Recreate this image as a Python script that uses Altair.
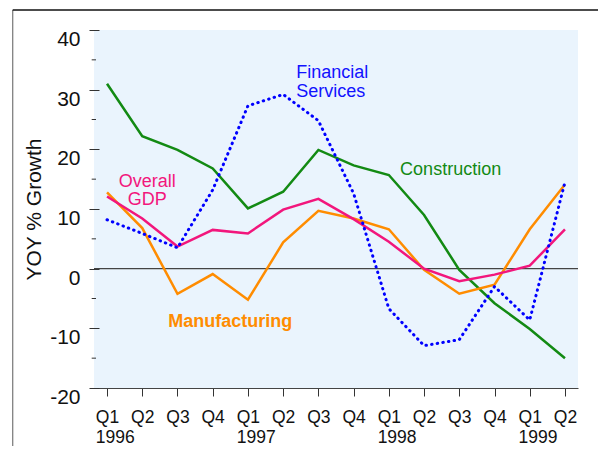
import json
import altair as alt
import pandas as pd

# ---- data ----
quarter_index = list(range(14))
quarter_labels = [["Q1", "1996"], ["Q2", ""], ["Q3", ""], ["Q4", ""],
                  ["Q1", "1997"], ["Q2", ""], ["Q3", ""], ["Q4", ""],
                  ["Q1", "1998"], ["Q2", ""], ["Q3", ""], ["Q4", ""],
                  ["Q1", "1999"], ["Q2", ""]]
construction = [31.0, 22.2, 19.9, 16.8, 10.1, 12.9, 19.9, 17.3, 15.7, 9.0, -0.2, -5.8, -10.1, -15.0]
manufacturing = [12.8, 6.8, -4.2, -0.9, -5.2, 4.4, 9.7, 8.4, 6.6, -0.2, -4.2, -2.7, 6.6, 14.1]
overall_gdp = [12.1, 8.4, 3.7, 6.5, 5.9, 9.9, 11.7, 8.3, 4.5, 0.0, -2.1, -1.0, 0.5, 6.6]
financial = [8.2, 5.9, 3.5, 13.2, 27.3, 29.2, 24.8, 12.6, -6.7, -12.9, -11.9, -3.0, -8.6, 14.5]

series_names = ["Construction", "Manufacturing", "Overall GDP", "Financial Services"]
series_colors = ["#138A13", "#FF8C00", "#F2167C", "#0000FF"]

major_ticks = [-20, -10, 0, 10, 20, 30, 40]
minor_ticks = [-15, -5, 5, 15, 25, 35]

# annotation labels: text, x (quarter index), y (value), align, weight, colour
ann_text = ["Financial\nServices", "Construction", "Overall\nGDP", "Manufacturing"]
ann_x = [5.37, 8.32, 1.14, 1.74]
ann_y = [34.3, 18.0, 16.1, -7.5]
ann_align = ["left", "left", "center", "left"]
ann_weight = ["normal", "normal", "normal", "bold"]
ann_color = ["#1212FF", "#138A13", "#F2167C", "#FF8C00"]

# ---- tables ----
rows = []
for name, vals in zip(series_names, [construction, manufacturing, overall_gdp, financial]):
    for i, v in zip(quarter_index, vals):
        rows.append({"series": name, "q": i, "value": v})
df = pd.DataFrame(rows)
solid = df[df.series != "Financial Services"]
dotted = df[df.series == "Financial Services"]

W, H = 484, 358
FONT = "Liberation Sans"

xscale = alt.Scale(domain=[-0.37, 13.37], nice=False, zero=False)
yscale = alt.Scale(domain=[-20, 40], nice=False, zero=False)
cscale = alt.Scale(domain=series_names, range=series_colors)

label_expr = json.dumps(quarter_labels) + "[datum.value]"

x_axis = alt.Axis(values=quarter_index, labelExpr=label_expr, title=None,
                  domainColor="#444444", domainWidth=1.2, tickColor="#333333",
                  tickSize=8, tickWidth=1, labelFont=FONT, labelFontSize=17.5,
                  labelFontWeight="normal",
                  labelColor="#111111", labelAlign="left", labelOffset=-11.7,
                  labelBaseline="top", labelPadding=12, labelLineHeight=20,
                  labelOverlap=False, labelFlush=False, grid=False)
y_axis = alt.Axis(values=major_ticks, title="YOY % Growth", domain=False,
                  labelExpr="'' + datum.value",
                  tickColor="#333333", tickSize=10, tickWidth=1, offset=-5,
                  labelFont=FONT, labelFontSize=21, labelFontWeight="normal",
                  labelColor="#111111",
                  labelBaseline="top", labelOffset=-1.5, labelPadding=9,
                  labelOverlap=False, labelFlush=False,
                  titleFont=FONT, titleFontSize=21, titleFontWeight="normal",
                  titleColor="#111111", titlePadding=5, grid=False)


def X(field):
    return alt.X(field, type="quantitative", scale=xscale, axis=x_axis)


def Y(field):
    return alt.Y(field, type="quantitative", scale=yscale, axis=y_axis)


frame_left = alt.Chart(pd.DataFrame({"k": [0]})).mark_rule(color="#808080", strokeWidth=1.3).encode(
    x=alt.value(-81.3), y=alt.value(-20), y2=alt.value(H + 120))
frame_top = alt.Chart(pd.DataFrame({"k": [0]})).mark_rule(color="#111111", strokeWidth=1.3).encode(
    x=alt.value(-81.3), x2=alt.value(W + 60), y=alt.value(-20))

zero_line = alt.Chart(pd.DataFrame({"v": [0]})).mark_rule(color="#444444", strokeWidth=1.2).encode(
    y=Y("v"))

minor = alt.Chart(pd.DataFrame({"v": minor_ticks})).mark_rule(color="#333333", strokeWidth=1).encode(
    y=Y("v"), x=alt.value(-2.3), x2=alt.value(2))

lines = alt.Chart(solid).mark_line(strokeWidth=2.5, strokeJoin="miter").encode(
    x=X("q"),
    y=Y("value"),
    color=alt.Color("series:N", scale=cscale, legend=None),
    order=alt.Order("q:Q"))

dots = alt.Chart(dotted).mark_line(strokeWidth=3, strokeDash=[0.5, 5.2], strokeCap="round").encode(
    x=X("q"),
    y=Y("value"),
    color=alt.Color("series:N", scale=cscale, legend=None),
    order=alt.Order("q:Q"))

layers = [frame_left, frame_top, zero_line, minor, lines, dots]
for t, ax, ay, al, wt, col in zip(ann_text, ann_x, ann_y, ann_align, ann_weight, ann_color):
    d = pd.DataFrame({"x": [ax], "y": [ay], "t": [t]})
    layers.append(alt.Chart(d).mark_text(align=al, baseline="top", font=FONT, fontSize=18,
                                         fontWeight=wt, color=col, lineBreak="\n",
                                         lineHeight=18.5).encode(
        x=X("x"), y=Y("y"), text="t:N"))

chart = alt.layer(*layers).properties(
    width=W, height=H,
    title=alt.TitleParams("GDP Growth", font="Liberation Serif", fontSize=24, fontWeight="bold",
                          color="#111111", anchor="middle", dx=-20, offset=14),
    autosize=alt.AutoSizeParams(type="none"),
    padding={"left": 86, "top": 22, "right": 20, "bottom": 58},
).configure_view(fill="#EAF4FD", stroke=None)

chart.save("out.html", embed_options={"renderer": "svg", "actions": False})
